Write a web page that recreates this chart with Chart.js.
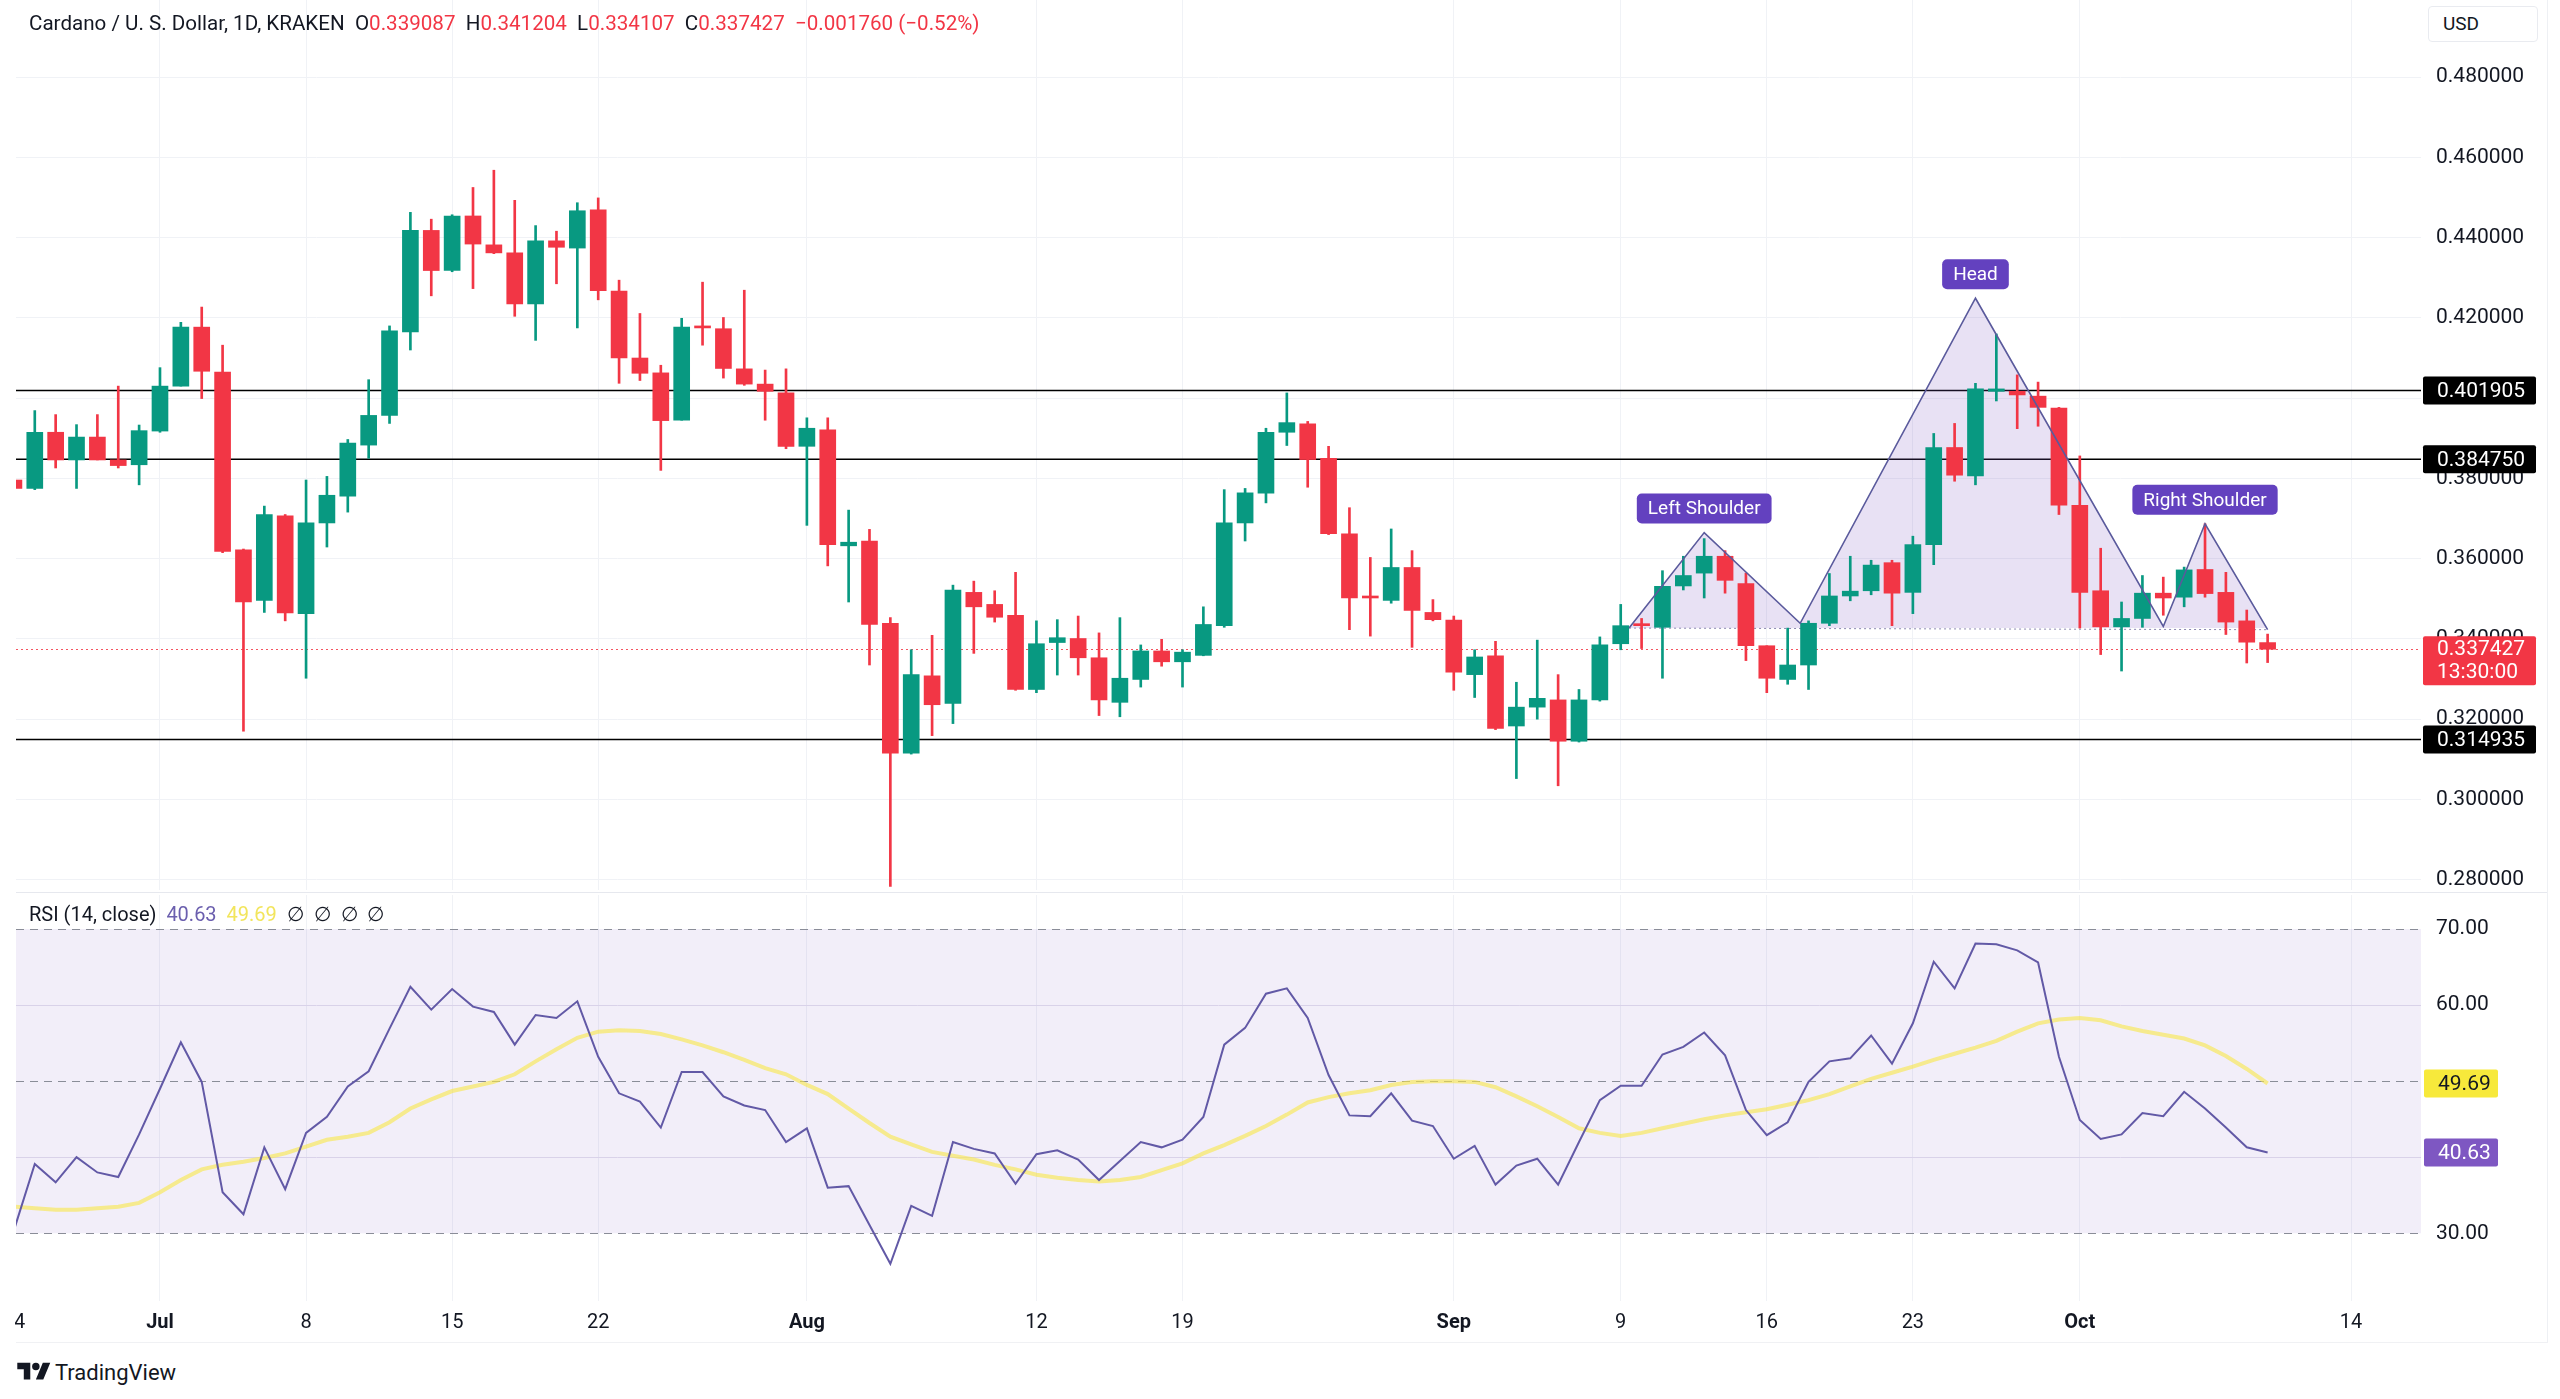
<!DOCTYPE html>
<html>
<head>
<meta charset="utf-8">
<title>ADA/USD 1D</title>
<script src="https://cdn.jsdelivr.net/npm/chart.js@4.4.1/dist/chart.umd.min.js"></script>
<style>
  html, body { margin: 0; padding: 0; background: #fff; }
  body { width: 2560px; height: 1399px; position: relative; overflow: hidden; font-family: Roboto, "Liberation Sans", sans-serif; color: #131722; }
  .pane { position: absolute; left: 0; width: 2560px; }
  #pricePane { top: 0; height: 892px; }
  #rsiPane { top: 893px; height: 457px; }
  #header { position: absolute; left: 29px; top: 11px; font-size: 20.6px; white-space: pre; }
  #header .v { color: #f23645; }
  #rsiLegend { position: absolute; left: 29px; top: 902px; font-size: 20px; white-space: pre; }
  #rsiLegend .rsi { color: #6b5fae; }
  #rsiLegend .ma { color: #f2e55c; }
  #usd { position: absolute; left: 2428px; top: 6px; width: 110px; height: 36px; box-sizing: border-box; border: 1px solid #e9ebf0; border-radius: 4px; padding-left: 14px; font-size: 19px; line-height: 34px; background: #fff; }
  #sep { position: absolute; left: 16px; top: 892px; width: 2531px; height: 1px; background: #e6e8ee; }
  #edge { position: absolute; left: 2547px; top: 0; width: 1px; height: 1342px; background: #eef0f4; }
  #foot { position: absolute; left: 16px; top: 1342px; width: 2532px; height: 1px; background: #f0f1f4; }
  #logo { position: absolute; left: 17px; top: 1359px; display: flex; align-items: center; gap: 4px; font-size: 22px; }
</style>
</head>
<body>
<div class="pane" id="pricePane"><canvas id="priceChart"></canvas></div>
<div class="pane" id="rsiPane"><canvas id="rsiChart"></canvas></div>
<div id="sep"></div>
<div id="edge"></div>
<div id="foot"></div>
<div id="header"></div>
<div id="rsiLegend"></div>
<div id="usd">USD</div>
<div id="logo">
  <svg width="34" height="26" viewBox="0 0 36 28"><path fill="#131722" d="M14 22H7V11H0V4h14v18zM28 22h-8l7.5-18h8L28 22z"/><circle fill="#131722" cx="20" cy="8" r="4"/></svg>
  <span>TradingView</span>
</div>
<script>
// daily candles, first one is Jun 24 (days counted from Jul 1)
const firstDay = -7;

const open = [
  0.3796, 0.3775, 0.3915, 0.3846, 0.3903, 0.3846, 0.3834, 0.3918, 0.4030, 0.4177,
  0.4065, 0.3622, 0.3496, 0.3707, 0.3463, 0.3689, 0.3756, 0.3883, 0.3957, 0.4165,
  0.4418, 0.4318, 0.4454, 0.4382, 0.4362, 0.4235, 0.4392, 0.4374, 0.4469, 0.4267,
  0.4100, 0.4063, 0.3945, 0.4177, 0.4173, 0.4073, 0.4035, 0.4013, 0.3880, 0.3921,
  0.3632, 0.3644, 0.3439, 0.3115, 0.3308, 0.3239, 0.3516, 0.3486, 0.3459, 0.3274,
  0.3391, 0.3401, 0.3353, 0.3242, 0.3299, 0.3370, 0.3343, 0.3359, 0.3433, 0.3689,
  0.3763, 0.3915, 0.3936, 0.3850, 0.3662, 0.3507, 0.3496, 0.3578, 0.3466, 0.3447,
  0.3311, 0.3358, 0.3183, 0.3230, 0.3248, 0.3145, 0.3248, 0.3388, 0.3435, 0.3429,
  0.3532, 0.3564, 0.3606, 0.3538, 0.3383, 0.3299, 0.3335, 0.3439, 0.3507, 0.3520,
  0.3590, 0.3516, 0.3635, 0.3877, 0.3806, 0.4017, 0.4017, 0.4005, 0.3975, 0.3733,
  0.3520, 0.3430, 0.3451, 0.3514, 0.3504, 0.3573, 0.3516, 0.3445, 0.339087
];
const high = [
  0.3800, 0.3969, 0.3959, 0.3934, 0.3959, 0.4030, 0.3933, 0.4076, 0.4189, 0.4227,
  0.4132, 0.3624, 0.3731, 0.3710, 0.3796, 0.3805, 0.3897, 0.4046, 0.4180, 0.4463,
  0.4446, 0.4457, 0.4525, 0.4568, 0.4493, 0.4430, 0.4416, 0.4487, 0.4499, 0.4294,
  0.4211, 0.4082, 0.4199, 0.4289, 0.4201, 0.4269, 0.4070, 0.4073, 0.3951, 0.3951,
  0.3721, 0.3673, 0.3453, 0.3373, 0.3409, 0.3534, 0.3544, 0.3520, 0.3566, 0.3445,
  0.3448, 0.3457, 0.3415, 0.3453, 0.3385, 0.3399, 0.3373, 0.3480, 0.3772, 0.3775,
  0.3925, 0.4013, 0.3942, 0.3880, 0.3727, 0.3603, 0.3674, 0.3620, 0.3498, 0.3457,
  0.3373, 0.3394, 0.3292, 0.3397, 0.3311, 0.3274, 0.3405, 0.3486, 0.3451, 0.3570,
  0.3606, 0.3650, 0.3620, 0.3564, 0.3383, 0.3427, 0.3445, 0.3563, 0.3606, 0.3596,
  0.3596, 0.3656, 0.3912, 0.3937, 0.4037, 0.4160, 0.4058, 0.4040, 0.3977, 0.3856,
  0.3626, 0.3492, 0.3558, 0.3554, 0.3579, 0.3687, 0.3566, 0.3472, 0.341204
];
const low = [
  0.3772, 0.3772, 0.3826, 0.3775, 0.3846, 0.3826, 0.3784, 0.3915, 0.4030, 0.3999,
  0.3615, 0.3170, 0.3466, 0.3445, 0.3302, 0.3629, 0.3716, 0.3850, 0.3937, 0.4120,
  0.4255, 0.4315, 0.4273, 0.4360, 0.4204, 0.4144, 0.4285, 0.4175, 0.4245, 0.4037,
  0.4044, 0.3820, 0.3945, 0.4132, 0.4050, 0.4032, 0.3945, 0.3874, 0.3683, 0.3582,
  0.3492, 0.3335, 0.2783, 0.3113, 0.3159, 0.3189, 0.3364, 0.3442, 0.3272, 0.3266,
  0.3310, 0.3310, 0.3209, 0.3206, 0.3280, 0.3332, 0.3280, 0.3358, 0.3429, 0.3644,
  0.3739, 0.3882, 0.3778, 0.3660, 0.3423, 0.3407, 0.3489, 0.3379, 0.3445, 0.3272,
  0.3254, 0.3174, 0.3052, 0.3200, 0.3034, 0.3143, 0.3245, 0.3373, 0.3376, 0.3302,
  0.3522, 0.3502, 0.3514, 0.3346, 0.3266, 0.3287, 0.3274, 0.3433, 0.3495, 0.3510,
  0.3433, 0.3463, 0.3585, 0.3793, 0.3784, 0.3993, 0.3924, 0.3930, 0.3710, 0.3427,
  0.3361, 0.3320, 0.3429, 0.3459, 0.3480, 0.3504, 0.3411, 0.3340, 0.334107
];
const close = [
  0.3775, 0.3915, 0.3846, 0.3903, 0.3846, 0.3832, 0.3919, 0.4030, 0.4177, 0.4067,
  0.3618, 0.3492, 0.3710, 0.3465, 0.3689, 0.3758, 0.3888, 0.3957, 0.4168, 0.4418,
  0.4318, 0.4454, 0.4384, 0.4362, 0.4235, 0.4392, 0.4376, 0.4467, 0.4268, 0.4100,
  0.4062, 0.3944, 0.4177, 0.4175, 0.4074, 0.4035, 0.4017, 0.3880, 0.3925, 0.3635,
  0.3641, 0.3436, 0.3115, 0.3311, 0.3236, 0.3522, 0.3480, 0.3454, 0.3274, 0.3388,
  0.3403, 0.3353, 0.3248, 0.3302, 0.3370, 0.3343, 0.3367, 0.3436, 0.3689, 0.3764,
  0.3915, 0.3939, 0.3847, 0.3662, 0.3502, 0.3502, 0.3578, 0.3471, 0.3448, 0.3317,
  0.3355, 0.3177, 0.3230, 0.3252, 0.3145, 0.3248, 0.3385, 0.3433, 0.3433, 0.3531,
  0.3558, 0.3606, 0.3546, 0.3383, 0.3302, 0.3335, 0.3439, 0.3507, 0.3519, 0.3584,
  0.3514, 0.3635, 0.3877, 0.3808, 0.4023, 0.4023, 0.4008, 0.3977, 0.3733, 0.3516,
  0.3430, 0.3451, 0.3514, 0.3502, 0.3572, 0.3513, 0.3442, 0.339187, 0.337427
];

// RSI(14) and its moving average, one value per candle
const rsi = [
  30.4, 39.1, 36.7, 40.0, 38.0, 37.4, 43.0, 49.0, 55.1, 49.9,
  35.4, 32.5, 41.3, 35.8, 43.2, 45.3, 49.3, 51.3, 56.9, 62.4,
  59.4, 62.1, 59.8, 59.1, 54.8, 58.7, 58.3, 60.5, 53.2, 48.4,
  47.3, 43.9, 51.2, 51.2, 48.0, 46.8, 46.2, 42.0, 43.8, 36.0,
  36.2, 31.1, 26.0, 33.6, 32.3, 42.0, 41.1, 40.5, 36.5, 40.4,
  40.9, 39.7, 37.0, 39.5, 42.0, 41.3, 42.3, 45.3, 54.8, 57.0,
  61.5, 62.2, 58.3, 50.8, 45.5, 45.4, 48.4, 44.8, 44.1, 39.8,
  41.5, 36.4, 38.9, 39.8, 36.4, 42.0, 47.5, 49.4, 49.4, 53.5,
  54.5, 56.4, 53.4, 46.2, 42.9, 44.6, 49.9, 52.6, 53.0, 56.0,
  52.3, 57.6, 65.7, 62.2, 68.1, 68.0, 67.2, 65.6, 53.2, 44.9,
  42.4, 43.0, 45.8, 45.4, 48.6, 46.4, 43.9, 41.3, 40.63
];
const rsiMa = [
  33.5, 33.3, 33.1, 33.1, 33.3, 33.5, 34.0, 35.4, 37.0, 38.4,
  39.0, 39.4, 39.9, 40.5, 41.4, 42.3, 42.7, 43.2, 44.6, 46.4,
  47.6, 48.7, 49.3, 49.9, 50.9, 52.6, 54.2, 55.7, 56.5, 56.7,
  56.6, 56.2, 55.5, 54.7, 53.8, 52.8, 51.7, 50.9, 49.5, 48.3,
  46.4, 44.5, 42.7, 41.7, 40.7, 40.2, 39.7, 39.0, 38.4, 37.7,
  37.3, 37.0, 36.8, 37.0, 37.4, 38.3, 39.2, 40.5, 41.6, 42.8,
  44.1, 45.6, 47.2, 47.9, 48.4, 48.8, 49.5, 49.9, 50.0, 50.0,
  49.9, 49.2, 48.0, 46.7, 45.3, 43.8, 43.2, 42.8, 43.2, 43.8,
  44.4, 45.0, 45.5, 45.9, 46.3, 46.9, 47.5, 48.3, 49.3, 50.3,
  51.1, 51.9, 52.8, 53.6, 54.4, 55.3, 56.5, 57.6, 58.1, 58.3,
  58.0, 57.2, 56.6, 56.1, 55.6, 54.7, 53.3, 51.6, 49.69
];

// axis ticks
const xTickDays = [-7, 0, 7, 14, 21, 31, 42, 49, 62, 70, 77, 84, 92, 105];
const xTickLabels = ['24', 'Jul', '8', '15', '22', 'Aug', '12', '19', 'Sep', '9', '16', '23', 'Oct', '14'];
const priceTicks = [0.28, 0.30, 0.32, 0.34, 0.36, 0.38, 0.40, 0.42, 0.44, 0.46, 0.48];
const rsiTicks = [30, 40, 50, 60, 70];
const rsiBand = [30, 50, 70];

// drawn levels and head & shoulders pattern
const levels = [0.401905, 0.38475, 0.314935];
const patternX = [70.4, 74, 78.6, 87, 96, 98, 101];
const patternY = [0.3427, 0.3665, 0.3439, 0.4249, 0.3431, 0.3687, 0.3423];
const patternNames = ['', 'Left Shoulder', '', 'Head', '', 'Right Shoulder', ''];
const countdown = '13:30:00';

// visible range
const xMin = -6.9, xMax = 108.35;
const priceMin = 0.27743, priceMax = 0.49922;
const rsiMin = 21.1, rsiMax = 74.47;

const FONT = 'Roboto, "Liberation Sans", sans-serif';
const UP = '#089981', DOWN = '#f23645';
const INK = '#131722';
const GRID = '#f0f2f6';

const days = open.map((_, i) => firstDay + i);
const candleColors = days.map((_, i) => close[i] >= open[i] ? UP : DOWN);
const last = close.length - 1;

// header and legend text
const fmt = v => (v < 0 ? '\u2212' : '+') + Math.abs(v).toFixed(6);
const change = close[last] - close[last - 1];
const pct = change / close[last - 1] * 100;
document.querySelector('#header').innerHTML =
  'Cardano / U. S. Dollar, 1D, KRAKEN  ' +
  'O<span class="v">' + open[last].toFixed(6) + '</span>  ' +
  'H<span class="v">' + high[last].toFixed(6) + '</span>  ' +
  'L<span class="v">' + low[last].toFixed(6) + '</span>  ' +
  'C<span class="v">' + close[last].toFixed(6) + '</span>  ' +
  '<span class="v">' + fmt(change) + ' (' + (pct < 0 ? '\u2212' : '+') + Math.abs(pct).toFixed(2) + '%)</span>';
document.querySelector('#rsiLegend').innerHTML =
  'RSI (14, close)  <span class="rsi">' + rsi[last].toFixed(2) + '</span>  ' +
  '<span class="ma">' + rsiMa[last].toFixed(2) + '</span>  \u2205  \u2205  \u2205  \u2205';

// shared x axis setup
function xAxis(showLabels) {
  return {
    type: 'linear', min: xMin, max: xMax, offset: false,
    afterBuildTicks: s => { s.ticks = xTickDays.map(v => ({ value: v })); },
    afterFit: s => { s.height = showLabels ? 49 : 2; s.paddingLeft = 0; s.paddingRight = 0; },
    ticks: {
      display: showLabels, autoSkip: false, maxRotation: 0, padding: 10, color: INK,
      font: c => ({ family: FONT, size: 20, weight: /^[A-Z]/.test(xTickLabels[c.index] || '') ? 'bold' : 'normal' }),
      callback: v => xTickLabels[xTickDays.indexOf(v)]
    },
    grid: { drawTicks: false, offset: false, color: c => (c.tick && c.tick.value < xMin) ? 'transparent' : GRID },
    border: { display: false }
  };
}

function yAxis(min, max, ticks, digits, gridColor) {
  return {
    type: 'linear', position: 'right', min, max,
    afterBuildTicks: s => { s.ticks = ticks.map(v => ({ value: v })); },
    afterFit: s => { s.width = 126; s.paddingTop = 0; s.paddingBottom = 0; },
    ticks: { padding: 15, color: INK, font: { family: FONT, size: 21 }, callback: v => v.toFixed(digits) },
    grid: { drawTicks: false, color: gridColor },
    border: { display: false }
  };
}

function badge(ctx, x, y, w, h, bg, fg, text) {
  ctx.fillStyle = bg;
  ctx.beginPath();
  ctx.roundRect(x, y - h / 2, w, h, 2);
  ctx.fill();
  ctx.fillStyle = fg;
  ctx.fillText(text, x + 14, y + 1);
}

// level lines, price line, pattern labels and axis badges
const priceOverlay = {
  id: 'priceOverlay',
  beforeDatasetsDraw(chart) {
    const { ctx, chartArea: a, scales: { y } } = chart;
    ctx.save();
    ctx.strokeStyle = '#000';
    ctx.lineWidth = 1.5;
    levels.forEach(v => {
      const py = y.getPixelForValue(v);
      ctx.beginPath(); ctx.moveTo(a.left, py); ctx.lineTo(a.right, py); ctx.stroke();
    });
    const py = Math.round(y.getPixelForValue(close[last])) + 0.5;
    ctx.strokeStyle = 'rgba(242, 54, 69, 0.85)';
    ctx.lineWidth = 1;
    ctx.setLineDash([2, 3]);
    ctx.beginPath(); ctx.moveTo(a.left, py); ctx.lineTo(a.right, py); ctx.stroke();
    ctx.restore();
  },
  afterDatasetsDraw(chart) {
    const { ctx, scales: { x, y } } = chart;
    ctx.save();
    ctx.font = '19px ' + FONT;
    ctx.textAlign = 'center';
    ctx.textBaseline = 'middle';
    patternNames.forEach((name, i) => {
      if (!name) return;
      const cx = x.getPixelForValue(patternX[i]);
      const cy = y.getPixelForValue(patternY[i]) - 24;
      const w = ctx.measureText(name).width + 22;
      ctx.fillStyle = '#6341bf';
      ctx.beginPath();
      ctx.roundRect(cx - w / 2, cy - 15, w, 30, 5);
      ctx.fill();
      ctx.fillStyle = '#fff';
      ctx.fillText(name, cx, cy + 1);
    });
    ctx.restore();
  },
  afterDraw(chart) {
    const { ctx, chartArea: a, scales: { y } } = chart;
    ctx.save();
    ctx.font = '21px ' + FONT;
    ctx.textAlign = 'left';
    ctx.textBaseline = 'middle';
    levels.forEach(v => badge(ctx, a.right + 2, y.getPixelForValue(v), 113, 28, '#000', '#fff', v.toFixed(6)));
    const py = y.getPixelForValue(close[last]);
    ctx.fillStyle = DOWN;
    ctx.beginPath();
    ctx.roundRect(a.right + 2, py - 13, 113, 49, 2);
    ctx.fill();
    ctx.fillStyle = '#fff';
    ctx.fillText(close[last].toFixed(6), a.right + 16, py + 1);
    ctx.fillText(countdown, a.right + 16, py + 24);
    ctx.restore();
  }
};

// RSI band, dashed levels and value badges
const rsiOverlay = {
  id: 'rsiOverlay',
  beforeDatasetsDraw(chart) {
    const { ctx, chartArea: a, scales: { y } } = chart;
    const top = y.getPixelForValue(rsiBand[2]);
    const bottom = y.getPixelForValue(rsiBand[0]);
    ctx.save();
    ctx.fillStyle = 'rgba(126, 87, 194, 0.1)';
    ctx.fillRect(a.left, top, a.right - a.left, bottom - top);
    ctx.strokeStyle = '#8a8d98';
    ctx.lineWidth = 1;
    ctx.setLineDash([8, 6]);
    rsiBand.forEach(v => {
      const py = Math.round(y.getPixelForValue(v)) + 0.5;
      ctx.beginPath(); ctx.moveTo(a.left, py); ctx.lineTo(a.right, py); ctx.stroke();
    });
    ctx.restore();
  },
  afterDraw(chart) {
    const { ctx, chartArea: a, scales: { x, y } } = chart;
    ctx.save();
    // hide the part of the first date label that falls left of the pane
    ctx.fillStyle = '#fff';
    ctx.fillRect(0, x.top, a.left - 1, x.height);
    ctx.font = '21px ' + FONT;
    ctx.textAlign = 'left';
    ctx.textBaseline = 'middle';
    badge(ctx, a.right + 3, y.getPixelForValue(rsiMa[last]), 74, 28, '#f7e93b', INK, rsiMa[last].toFixed(2));
    badge(ctx, a.right + 3, y.getPixelForValue(rsi[last]), 74, 28, '#7e57c2', '#fff', rsi[last].toFixed(2));
    ctx.restore();
  }
};

const patternPoints = patternX.map((x, i) => ({ x, y: patternY[i] }));
const neckPoints = [patternPoints[0], patternPoints[patternPoints.length - 1]];

new Chart(document.querySelector('#priceChart'), {
  type: 'bar',
  data: {
    datasets: [
      { type: 'line', data: patternPoints, borderColor: '#5a5a9c', borderWidth: 1.6, pointRadius: 0, fill: false, order: 0 },
      {
        data: days.map((x, i) => ({ x, y: [open[i], close[i]] })),
        backgroundColor: candleColors, grouped: false, barPercentage: 1, categoryPercentage: 1,
        maxBarThickness: 16, minBarLength: 2, order: 1
      },
      {
        data: days.map((x, i) => ({ x, y: [low[i], high[i]] })),
        backgroundColor: candleColors, grouped: false, barPercentage: 1, categoryPercentage: 1,
        maxBarThickness: 2, order: 2
      },
      {
        type: 'line', data: patternPoints, borderWidth: 0, pointRadius: 0,
        fill: { value: patternY[0] }, backgroundColor: 'rgba(126, 87, 194, 0.18)', order: 3
      },
      { type: 'line', data: neckPoints, borderColor: '#8b87b0', borderWidth: 1, borderDash: [2, 3], pointRadius: 0, fill: false, order: 3 }
    ]
  },
  options: {
    responsive: true,
    maintainAspectRatio: false,
    animation: false,
    events: [],
    layout: { autoPadding: false, padding: { left: 16, right: 13, top: 0, bottom: 0 } },
    plugins: { legend: { display: false }, tooltip: { enabled: false } },
    scales: {
      x: xAxis(false),
      y: yAxis(priceMin, priceMax, priceTicks, 6, GRID)
    }
  },
  plugins: [priceOverlay]
});

new Chart(document.querySelector('#rsiChart'), {
  type: 'line',
  data: {
    datasets: [
      { data: days.map((x, i) => ({ x, y: rsi[i] })), borderColor: '#6259a6', borderWidth: 2, pointRadius: 0, order: 0 },
      { data: days.map((x, i) => ({ x, y: rsiMa[i] })), borderColor: 'rgba(248, 232, 70, 0.6)', borderWidth: 4, pointRadius: 0, order: 1 }
    ]
  },
  options: {
    responsive: true,
    maintainAspectRatio: false,
    animation: false,
    events: [],
    layout: { autoPadding: false, padding: { left: 16, right: 13, top: 2, bottom: 0 } },
    plugins: { legend: { display: false }, tooltip: { enabled: false } },
    scales: {
      x: xAxis(true),
      y: yAxis(rsiMin, rsiMax, rsiTicks, 2, c => (c.tick.value === 40 || c.tick.value === 60) ? '#e4e0ee' : 'transparent')
    }
  },
  plugins: [rsiOverlay]
});
</script>
</body>
</html>
